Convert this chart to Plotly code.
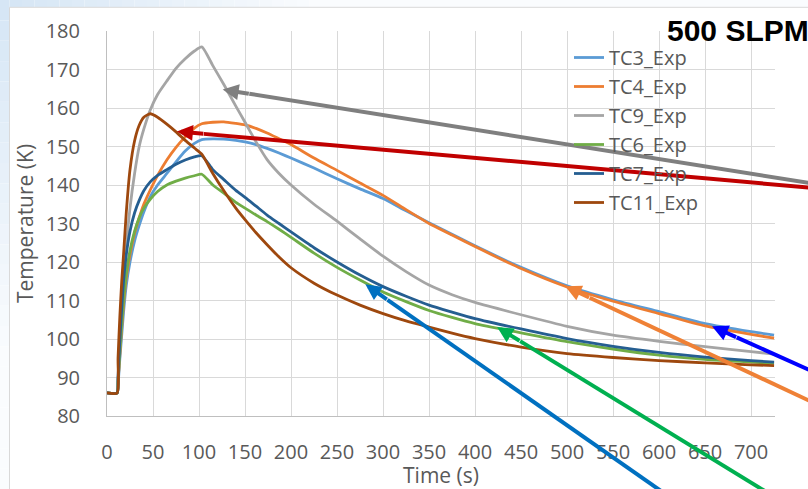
import math
import plotly.graph_objects as go

# ---------------- data ----------------
time_s = [0, 11, 12, 14, 16, 18, 21, 25, 30, 35, 40, 47, 55, 65, 75, 85, 95, 103,
          115, 127, 140, 150, 162, 174, 187, 200, 225, 250, 275, 300, 325, 350,
          375, 400, 450, 500, 550, 600, 650, 700, 725]

tc3_exp = [86, 86, 88, 95, 101, 107, 114, 120, 125.5, 129.5, 133, 137, 140, 143, 146,
           148.8, 150.8, 151.8, 152, 151.9, 151.6, 151.2, 150.5, 149.5, 148.3, 147,
           144.4, 141.6, 139, 136.5, 133.3, 130.2, 127.2, 124.2, 118.6, 113.8, 110.2,
           107.1, 104, 101.9, 101]
tc4_exp = [86, 86, 89, 96, 103, 109, 116, 122, 127.5, 131.5, 135, 138.7, 142.5, 146.5,
           149.8, 152.5, 154.8, 155.9, 156.3, 156.4, 156, 155.6, 154.7, 153.5, 152,
           150.5, 147, 143.8, 140.5, 137.3, 133.6, 130, 127, 124, 118.3, 113.5, 109.8,
           106.6, 103.4, 101.2, 100.2]
tc9_exp = [86, 86, 90, 98, 106, 114, 124, 134, 143, 150, 154.5, 159.5, 163.5, 167,
           170.3, 172.8, 174.8, 175.9, 171, 166.1, 160.5, 156.3, 151.2, 146.6, 143,
           140, 135, 130.6, 126, 121.5, 117.5, 114, 111.5, 109.5, 106.3, 103.3, 101,
           99.4, 98, 96.7, 96.1]
tc6_exp = [86, 86, 89, 97, 104, 110, 117, 123, 128, 131.5, 134, 136.3, 138.3, 140, 141,
           141.8, 142.4, 142.8, 140, 137.9, 135.5, 134, 132.2, 130.5, 128.5, 126.4,
           122.3, 118.6, 115.3, 112.2, 109.7, 107.4, 105.6, 104, 101.6, 99.3, 97.4,
           95.8, 94.7, 94, 93.7]
tc7_exp = [86, 86, 90, 100, 108, 115, 122, 128, 132.8, 136, 138.5, 140.8, 142.5, 144,
           145.4, 146.5, 147.3, 147.6, 144, 141.4, 138.6, 136.8, 134.5, 132.2, 130,
           127.8, 123.7, 120, 116.6, 113.6, 111.1, 108.8, 107, 105.3, 102.6, 100.1,
           98.1, 96.5, 95.3, 94.4, 94]
tc11_exp = [86, 86, 95, 106, 115, 122, 133, 144, 151.5, 155.5, 157.6, 158.5, 157.6,
            155.8, 153.8, 151.6, 149.6, 148, 143, 138.5, 134, 131, 127.6, 124.5, 121.3,
            118.5, 114.5, 111.4, 108.8, 106.6, 104.7, 103.1, 101.5, 100.1, 97.9, 96.2,
            95.2, 94.4, 93.8, 93.3, 93.1]

series_names = ["TC3_Exp", "TC4_Exp", "TC9_Exp", "TC6_Exp", "TC7_Exp", "TC11_Exp"]
series_values = [tc3_exp, tc4_exp, tc9_exp, tc6_exp, tc7_exp, tc11_exp]
series_colors = ["#5B9BD5", "#ED7D31", "#A5A5A5", "#70AD47", "#255E91", "#9E480E"]

x_ticks = list(range(0, 701, 50))
y_ticks = list(range(80, 181, 10))
x_range = [0, 726]
y_range = [80, 180]

# Arrow annotations: head points (time, temperature), tail direction (pixels, +y down)
arrow_heads_t = [125.7, 76.0, 280.8, 424.0, 498.0, 657.6]
arrow_heads_T = [164.8, 153.9, 114.2, 103.1, 113.7, 103.3]
arrow_dir_x = [585.7, 631.3, 293.3, 265.0, 243.0, 96.3]
arrow_dir_y = [93.3, 56.0, 205.0, 162.3, 114.0, 43.3]
arrow_colors = ["#7F7F7F", "#C00000", "#0070C0", "#00B050", "#EF8136", "#0000FF"]

title_text = "500 SLPM"

# ---------------- layout geometry ----------------
W, H = 808, 489
ML, MR, MT, MB = 107, 33, 31, 73
PW, PH = W - ML - MR, H - MT - MB


def pxx(px):
    return (px - ML) / PW


def pxy(py):
    return 1 - (py - MT) / PH


def data_px(t, T):
    px = ML + (t - x_range[0]) / (x_range[1] - x_range[0]) * PW
    py = MT + (y_range[1] - T) / (y_range[1] - y_range[0]) * PH
    return px, py


fig = go.Figure()
for name, vals, col in zip(series_names, series_values, series_colors):
    fig.add_trace(go.Scatter(
        x=time_s, y=vals, name=name, mode="lines",
        line=dict(color=col, width=2.8, shape="spline", smoothing=0.6),
    ))

shapes = []


def mix(c1, c2, f):
    return "rgb(%d,%d,%d)" % tuple(round(a + (b - a) * f) for a, b in zip(c1, c2))


blue = (214, 230, 245)
white = (250, 252, 254)
n = 24
for i in range(n):
    y0 = H * i / n
    y1 = H * (i + 1) / n
    shapes.append(dict(type="rect", xref="paper", yref="paper", layer="below",
                       x0=pxx(0), x1=pxx(9.5), y0=pxy(y1), y1=pxy(y0),
                       fillcolor=mix(blue, white, min(1, i / (n * 0.7))), line=dict(width=0)))
for i in range(n):
    x0 = 9.5 + 300 * i / n
    x1 = 9.5 + 300 * (i + 1) / n
    shapes.append(dict(type="rect", xref="paper", yref="paper", layer="below",
                       x0=pxx(x0), x1=pxx(x1), y0=pxy(7.3), y1=pxy(0),
                       fillcolor=mix(blue, white, i / n), line=dict(width=0)))
shapes.append(dict(type="rect", xref="paper", yref="paper", layer="below",
                   x0=pxx(309.5), x1=pxx(W + 5), y0=pxy(7.3), y1=pxy(0),
                   fillcolor="rgb(250,252,254)", line=dict(width=0)))
# chart area box
shapes.append(dict(type="rect", xref="paper", yref="paper", layer="below",
                   x0=pxx(9.5), x1=pxx(W + 20), y0=pxy(H + 20), y1=pxy(7.3),
                   fillcolor="white", line=dict(color="#D9D9D9", width=1)))

annotations = []
HEAD_TAIL = 28  # short tail of the annotation arrow; the rest of the shaft is a line shape
for t, T, dx, dy, col in zip(arrow_heads_t, arrow_heads_T, arrow_dir_x, arrow_dir_y, arrow_colors):
    L = math.hypot(dx, dy)
    ux, uy = dx / L, dy / L
    annotations.append(dict(
        x=t, y=T, xref="x", yref="y", ax=ux * HEAD_TAIL, ay=uy * HEAD_TAIL,
        axref="pixel", ayref="pixel",
        text="", showarrow=True, arrowhead=2, arrowsize=0.8, arrowwidth=4,
        arrowcolor=col,
    ))
    hx, hy = data_px(t, T)
    sx, sy = hx + ux * (HEAD_TAIL - 1), hy + uy * (HEAD_TAIL - 1)
    ex, ey = hx + ux * 1200, hy + uy * 1200
    shapes.append(dict(type="line", xref="paper", yref="paper", layer="above",
                       x0=pxx(sx), y0=pxy(sy), x1=pxx(ex), y1=pxy(ey),
                       line=dict(color=col, width=4)))

annotations.append(dict(
    x=pxx(665), y=pxy(30), xref="paper", yref="paper", xanchor="left", yanchor="middle",
    text="<b>" + title_text + "</b>", showarrow=False,
    font=dict(family="Liberation Sans, Arial, sans-serif", size=30, color="black"),
))

axis_font = dict(family="Open Sans, sans-serif", size=20, color="#595959")
title_font = dict(family="Open Sans, sans-serif", size=21, color="#595959")

fig.update_layout(
    width=W, height=H,
    margin=dict(l=ML, r=MR, t=MT, b=MB, pad=0, autoexpand=False),
    paper_bgcolor="white", plot_bgcolor="white",
    shapes=shapes, annotations=annotations,
    showlegend=True,
    legend=dict(
        x=pxx(569), y=pxy(38), xanchor="left", yanchor="top",
        bgcolor="rgba(0,0,0,0)", borderwidth=0,
        font=dict(family="Open Sans, sans-serif", size=20, color="#595959"),
    ),
    xaxis=dict(
        range=x_range, tickmode="array", tickvals=x_ticks, automargin=False,
        showgrid=True, gridcolor="#D9D9D9", gridwidth=1,
        showline=True, linecolor="#BFBFBF", linewidth=1,
        zeroline=False, ticks="", tickfont=axis_font, ticklabelstandoff=18,
        title=dict(text="Time (s)", font=title_font, standoff=3),
    ),
    yaxis=dict(
        range=y_range, tickmode="array", tickvals=y_ticks, automargin=False,
        showgrid=True, gridcolor="#D9D9D9", gridwidth=1,
        showline=True, linecolor="#BFBFBF", linewidth=1,
        zeroline=False, ticks="", tickfont=axis_font, ticklabelstandoff=22,
        title=dict(text="Temperature (K)", font=title_font, standoff=6),
    ),
)

fig.write_html("out.html", config={"displayModeBar": False},
               post_script="document.body.style.margin='0';document.body.style.overflow='hidden';")
